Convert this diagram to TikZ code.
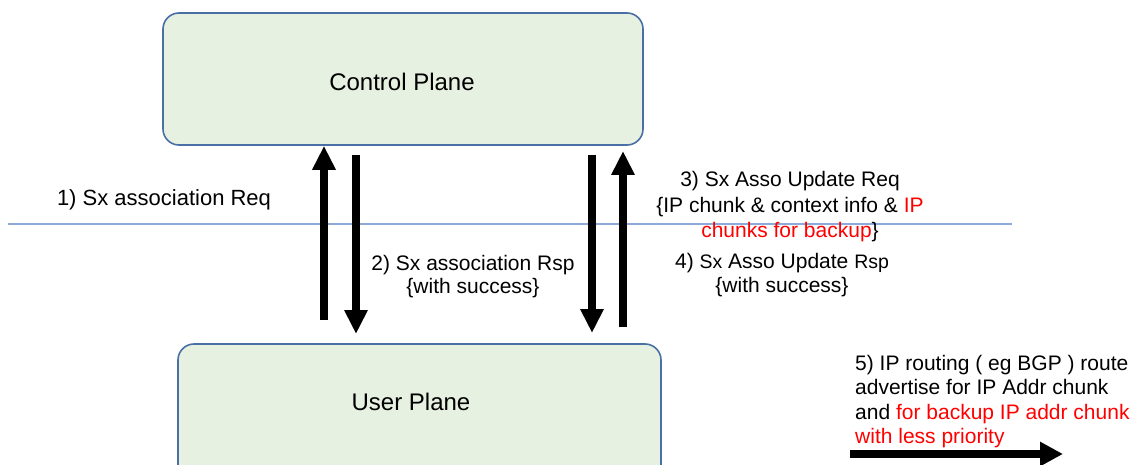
\documentclass[tikz,border=0pt]{standalone}
\usepackage{fontspec}
\setmainfont{Liberation Sans}
\usetikzlibrary{arrows.meta}
\definecolor{planefill}{HTML}{E7F1E1}
\definecolor{planeedge}{HTML}{4A6FA5}
\definecolor{divider}{HTML}{8EAADB}
\definecolor{hot}{HTML}{FF0000}
\begin{document}
\begin{tikzpicture}[x=1pt,y=-1pt,
  plane/.style={draw=planeedge,line width=1.6pt,fill=planefill,rounded corners=16pt,
    minimum width=480pt,minimum height=132pt,inner sep=0pt},
  planetxt/.style={inner sep=0pt,font=\fontsize{24}{29}\selectfont},
  msg/.style={line width=7.5pt,-{Triangle[length=24pt,width=22pt]}},
  lbl/.style={align=center,inner sep=0pt,font=\fontsize{21}{25}\selectfont}]
\useasboundingbox (0,0) rectangle (1134,465);
\clip (0,0) rectangle (1134,465);

% the two planes
\node[plane] (cp) at (403,79) {};
\node[planetxt] (cptxt) at (402,82) {Control Plane};
\node[plane,minimum width=483pt,minimum height=150pt] (up) at (419.5,419) {};
\node[planetxt] (uptxt) at (411,402) {User Plane};

% divider line
\coordinate (dl) at (8,224);
\coordinate (dr) at (1012,224);
\draw[divider,line width=1.3pt] (dl) -- (dr);

% association exchange
\coordinate (a1) at (324,320);
\draw[msg] (a1) -- (a1 |- cp.south);
\coordinate (a2) at (356,155);
\coordinate (a2e) at (356,334);
\draw[msg] (a2) -- (a2e);

% association update exchange
\coordinate (a3) at (592,155);
\coordinate (a3e) at (592,333);
\draw[msg] (a3) -- (a3e);
\coordinate (a4) at (623,327);
\coordinate (a4e) at (623,151);
\draw[msg] (a4) -- (a4e);

% message labels
\node[lbl,anchor=base,font=\fontsize{22}{26}\selectfont] (l1) at (164,205) {1) Sx association Req};
\node[lbl,font=\fontsize{21}{23}\selectfont] (l2) at (473,277) {2) Sx association Rsp\\\{with success\}};
\node[lbl,font=\fontsize{21}{25.5}\selectfont] (l3) at (790,207) {3) Sx Asso Update Req\\\{IP chunk \& context info \& \textcolor{hot}{IP}\\\textcolor{hot}{chunks for backup}\}};
\node[lbl,font=\fontsize{21}{24}\selectfont] (l4) at (782,275.5) {4) {\fontsize{19.5}{24}\selectfont Sx} Asso Update {\fontsize{19.5}{24}\selectfont Rsp}\\\{with success\}};

% route advertisement
\node[lbl,align=left,anchor=north west,font=\fontsize{21}{24.4}\selectfont] (l5) at (855,355)
  {5) IP routing ( eg BGP ) route\\advertise for IP Addr chunk\\and \textcolor{hot}{for backup IP addr chunk}\\\textcolor{hot}{with less priority}};
\coordinate (r1) at (850,454);
\coordinate (r2) at (1063,454);
\draw[line width=7.5pt,-{Triangle[length=23pt,width=23pt]}] (r1) -- (r2);
\end{tikzpicture}
\end{document}
